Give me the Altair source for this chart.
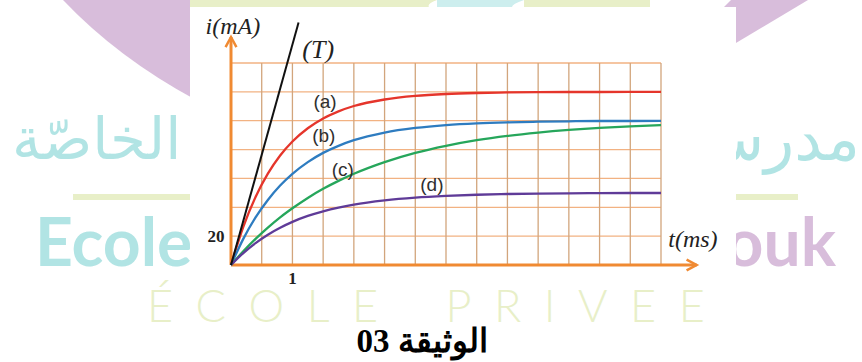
import altair as alt
import pandas as pd

# ---- values read along the four current curves i(t) ----
t_ms = [0, 0.2, 0.4, 0.6, 0.8, 1, 1.25, 1.5, 1.75, 2, 2.5, 3, 3.5, 4, 4.5, 5, 5.5, 6, 6.5, 7]
i_a = [0, 26.5, 47.2, 63.3, 75.9, 85.6, 94.8, 101.6, 106.5, 110.2, 114.7, 117.2, 118.5,
       119.2, 119.6, 119.8, 119.9, 119.9, 120, 120]
i_b = [0, 18.1, 33.0, 45.1, 55.1, 63.2, 71.3, 77.7, 82.6, 86.5, 91.8, 95.0, 97.0,
       98.2, 98.9, 99.3, 99.6, 99.8, 99.8, 99.9]
i_c = [0, 9.5, 18.1, 25.9, 33.0, 39.3, 46.5, 52.8, 58.3, 63.2, 71.3, 77.7, 82.6,
       86.5, 89.5, 91.8, 93.6, 95.0, 96.1, 97.0]
i_d = [0, 8.3, 15.2, 21.0, 25.8, 29.9, 34.0, 37.2, 39.8, 41.9, 44.8, 46.7, 47.9,
       48.7, 49.2, 49.5, 49.7, 49.8, 49.9, 49.9]
curve_names = ["(a)", "(b)", "(c)", "(d)"]
curve_colors = ["#e5352b", "#2e7cc0", "#26a65b", "#5f3b98"]

# tangent (T) at the origin
tangent_t = [0, 1.1]
tangent_i = [0, 168]

# graph-paper divisions: 0.5 ms and 20 mA
grid_t = [0, 0.5, 1, 1.5, 2, 2.5, 3, 3.5, 4, 4.5, 5, 5.5, 6, 6.5, 7]
grid_i = [0, 20, 40, 60, 80, 100, 120, 140]

# ---- layout ----
W, H = 430, 202
PAD_L, PAD_T = 231, 63
xs = alt.Scale(domain=[0, 7], nice=False, zero=False)
ys = alt.Scale(domain=[0, 140], nice=False, zero=False)

TEAL = "#b1e4e4"
LILAC = "#d8bddb"
PALE = "#e8efc8"
ORANGE = "#f08a32"

one = pd.DataFrame({"k": [0]})


def canvas_shape(path, color):
    # custom symbol drawn in page pixels (size 4 -> unit scale)
    return alt.Chart(one).mark_point(
        shape=path, filled=True, color=color, opacity=1, size=4, strokeWidth=0
    ).encode(x=alt.value(-PAD_L), y=alt.value(-PAD_T))


def canvas_text(txt, px, py, size, color, font, weight="normal", align="left"):
    return alt.Chart(one).mark_text(
        text=txt, fontSize=size, color=color, font=font, fontWeight=weight,
        align=align, baseline="alphabetic"
    ).encode(x=alt.value(px - PAD_L), y=alt.value(py - PAD_T))


layers = []

# ---- school watermark behind the figure ----
layers.append(canvas_shape("M 63 0 Q 118 58 196 100 L 200 100 L 200 0 Z", LILAC))
layers.append(canvas_shape("M 731 0 L 808 0 L 617 114 Z", LILAC))
layers.append(canvas_shape("M 190 0 L 437 0 Q 420 6 437 12 L 190 12 Z", PALE))
layers.append(canvas_shape("M 437 0 L 524 0 Q 500 8 524 12 L 437 12 Z", "#cdeeee"))
layers.append(canvas_shape("M 524 0 L 650 0 L 650 12 L 524 12 Z", PALE))
layers.append(canvas_shape("M 73 194 L 200 194 L 200 200 L 73 200 Z", PALE))
layers.append(canvas_shape("M 726 194 L 798 194 L 798 200 L 726 200 Z", PALE))
layers.append(canvas_text("الخاصّة", 12, 159, 58, TEAL, "DejaVu Sans"))
layers.append(canvas_text("مدرسة", 860, 160, 62, TEAL, "DejaVu Sans", align="right"))
layers.append(canvas_text("Ecole", 35, 266, 66, TEAL, "Lato", weight="bold"))
layers.append(canvas_text("ouk", 836, 266, 66, LILAC, "Lato", weight="bold", align="right"))
layers.append(canvas_text(
    "É\u2002C\u2002O\u2002L\u2002E\u2003\u2003P\u2002R\u2002I\u2002V\u2002E\u2002E",
    147, 322, 45, PALE, "Lato", weight=300))

# white card carrying the figure
layers.append(alt.Chart(one).mark_rect(color="white").encode(
    x=alt.value(190 - PAD_L), x2=alt.value(736 - PAD_L),
    y=alt.value(7 - PAD_T), y2=alt.value(287 - PAD_T)))

# ---- graph paper ----
layers.append(alt.Chart(pd.DataFrame({"i": grid_i})).mark_rule(
    color="#f2b282", strokeWidth=1.3).encode(
    y=alt.Y("i:Q", scale=ys, axis=None), x=alt.value(0), x2=alt.value(W)))
layers.append(alt.Chart(pd.DataFrame({"t": grid_t})).mark_rule(
    color="#d2a57c", strokeWidth=1.3).encode(
    x=alt.X("t:Q", scale=xs, axis=None), y=alt.value(0), y2=alt.value(H)))

# ---- axes with arrow heads ----
axes_df = pd.DataFrame({"x0": [0, 0], "x1": [7.58, 0], "y0": [0, 0], "y1": [0, 158]})
layers.append(alt.Chart(axes_df).mark_rule(color=ORANGE, strokeWidth=3).encode(
    x=alt.X("x0:Q", scale=xs, axis=None), x2="x1:Q",
    y=alt.Y("y0:Q", scale=ys, axis=None), y2="y1:Q"))
layers.append(alt.Chart(pd.DataFrame({"t": [7.58], "i": [0]})).mark_point(
    shape="M -2.4 -1.3 L 0 0 L -2.4 1.3", filled=False, color=ORANGE,
    strokeWidth=2.5, opacity=1, size=70).encode(
    x=alt.X("t:Q", scale=xs, axis=None), y=alt.Y("i:Q", scale=ys, axis=None)))
layers.append(alt.Chart(pd.DataFrame({"t": [0], "i": [158]})).mark_point(
    shape="M -1.3 2.4 L 0 0 L 1.3 2.4", filled=False, color=ORANGE,
    strokeWidth=2.5, opacity=1, size=70).encode(
    x=alt.X("t:Q", scale=xs, axis=None), y=alt.Y("i:Q", scale=ys, axis=None)))

# ---- curves ----
curves = pd.concat([
    pd.DataFrame({"t": t_ms, "i": vals, "curve": name})
    for name, vals in zip(curve_names, [i_a, i_b, i_c, i_d])
])
layers.append(alt.Chart(curves).mark_line(interpolate="monotone", strokeWidth=2.3).encode(
    x=alt.X("t:Q", scale=xs, axis=None),
    y=alt.Y("i:Q", scale=ys, axis=None),
    color=alt.Color("curve:N", scale=alt.Scale(domain=curve_names, range=curve_colors), legend=None),
    detail="curve:N"))
layers.append(alt.Chart(pd.DataFrame({"t": tangent_t, "i": tangent_i})).mark_line(
    color="#111111", strokeWidth=2).encode(
    x=alt.X("t:Q", scale=xs, axis=None), y=alt.Y("i:Q", scale=ys, axis=None)))

# ---- labels ----
curve_lbl = pd.DataFrame({"label": curve_names,
                          "t": [1.53, 1.51, 1.82, 3.27],
                          "i": [113, 89.5, 66, 55.5]})
layers.append(alt.Chart(curve_lbl).mark_text(
    font="Liberation Sans", fontSize=19, color="#2f2f2f", baseline="middle").encode(
    x=alt.X("t:Q", scale=xs, axis=None), y=alt.Y("i:Q", scale=ys, axis=None), text="label:N"))

serif_lbl = pd.DataFrame({"label": ["(T)", "i(mA)", "t(ms)"],
                          "t": [1.42, 0.03, 7.52],
                          "i": [149, 165, 17.3],
                          "size": [26, 24, 24]})
for _, row in serif_lbl.iterrows():
    layers.append(alt.Chart(pd.DataFrame([row])).mark_text(
        font="Liberation Serif", fontStyle="italic", fontSize=int(row["size"]),
        color="#222222", baseline="middle").encode(
        x=alt.X("t:Q", scale=xs, axis=None), y=alt.Y("i:Q", scale=ys, axis=None),
        text="label:N"))

layers.append(alt.Chart(pd.DataFrame({"t": [0], "i": [20], "label": ["20"]})).mark_text(
    font="Liberation Serif", fontWeight="bold", fontSize=17, color="#222222",
    baseline="middle", dx=-15, dy=1).encode(
    x=alt.X("t:Q", scale=xs, axis=None), y=alt.Y("i:Q", scale=ys, axis=None), text="label:N"))
layers.append(alt.Chart(pd.DataFrame({"t": [1], "i": [0], "label": ["1"]})).mark_text(
    font="Liberation Serif", fontWeight="bold", fontSize=17, color="#222222",
    baseline="middle", dy=14).encode(
    x=alt.X("t:Q", scale=xs, axis=None), y=alt.Y("i:Q", scale=ys, axis=None), text="label:N"))

# caption
layers.append(canvas_text("03 الوثيقة", 422, 352, 33, "#000000", "Liberation Serif",
                          weight="bold", align="center"))

chart = alt.layer(*layers).properties(
    width=W, height=H,
    autosize=alt.AutoSizeParams(type="none"),
    padding={"left": PAD_L, "top": PAD_T, "right": 862 - PAD_L - W, "bottom": 362 - PAD_T - H},
    background="white",
).configure_view(stroke=None)

chart.save("out.html", embed_options={"renderer": "svg", "actions": False})
